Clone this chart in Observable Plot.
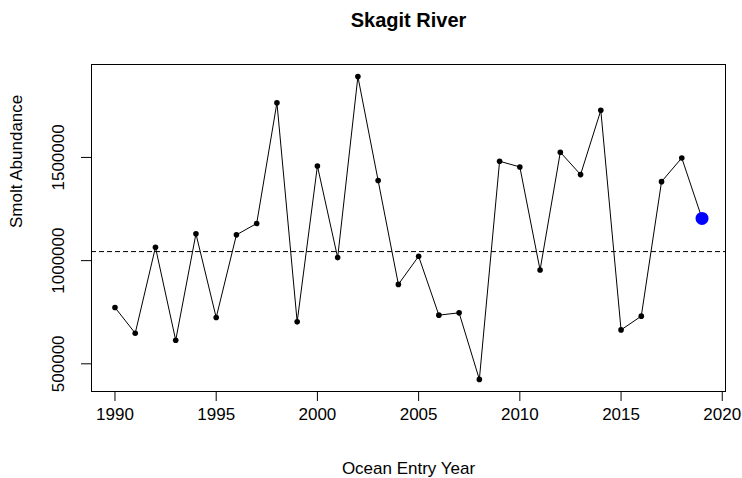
<!DOCTYPE html>
<html>
<head>
<meta charset="utf-8">
<script src="https://cdn.jsdelivr.net/npm/d3@7"></script>
<script src="https://cdn.jsdelivr.net/npm/@observablehq/plot@0.6"></script>
<style>
  html, body { margin: 0; padding: 0; background: #fff; }
  #chart svg { display: block; }
</style>
</head>
<body>
<div id="chart"></div>
<script>
const years = [1990,1991,1992,1993,1994,1995,1996,1997,1998,1999,
               2000,2001,2002,2003,2004,2005,2006,2007,2008,2009,
               2010,2011,2012,2013,2014,2015,2016,2017,2018,2019];
const abundance = [772900,648300,1064700,614300,1129900,724200,1125000,1180000,1765100,703300,
                   1458700,1014600,1891600,1388000,884900,1021000,735900,747100,424600,1481500,
                   1454000,954600,1525300,1416800,1728100,664400,731000,1382700,1497600,1204300];
const highlightYear = 2019;
const referenceLevel = 1043800;
const xTicks = [1990,1995,2000,2005,2010,2015,2020];
const yTicks = [500000,1000000,1500000];
const title = "Skagit River";
const xLabel = "Ocean Entry Year";
const yLabel = "Smolt Abundance";

const data = years.map((y, i) => ({year: y, value: abundance[i]}));
const past = data.filter(d => d.year !== highlightYear);
const current = data.filter(d => d.year === highlightYear);

// R-style 4% axis extension
const [x0, x1] = d3.extent(years);
const [y0, y1] = d3.extent(abundance);
const xPad = (x1 - x0) * 0.04, yPad = (y1 - y0) * 0.04;

const font = "'Liberation Sans', Arial, sans-serif";

const chart = Plot.plot({
  width: 742,
  height: 478,
  marginLeft: 91,
  marginRight: 17,
  marginTop: 64,
  marginBottom: 87,
  style: {fontFamily: font, fontSize: "17px", color: "#000", background: "#fff"},
  x: {domain: [x0 - xPad, x1 + xPad]},
  y: {domain: [y0 - yPad, y1 + yPad]},
  marks: [
    Plot.frame({stroke: "#000", strokeWidth: 1}),
    Plot.axisX({ticks: xTicks, tickSize: 10, tickPadding: 6, tickFormat: d => String(d),
                fontSize: 17, label: null, stroke: "#000"}),
    Plot.axisY({ticks: yTicks, tickSize: 10, text: null, label: null, stroke: "#000"}),
    Plot.text(yTicks, {y: d => d, frameAnchor: "left", dx: -32.5, rotate: -90,
                       text: d => String(d), textAnchor: "middle", lineAnchor: "middle",
                       fontSize: 17, fill: "#000"}),
    Plot.ruleY([referenceLevel], {stroke: "#000", strokeWidth: 1, strokeDasharray: "5,3"}),
    Plot.line(data, {x: "year", y: "value", stroke: "#000", strokeWidth: 1}),
    Plot.dot(past, {x: "year", y: "value", r: 2.8, fill: "#000", stroke: null}),
    Plot.dot(current, {x: "year", y: "value", r: 6.5, fill: "#0000ff", stroke: null}),
    Plot.text([title], {frameAnchor: "top", dy: -44, fontWeight: "bold", fontSize: 20,
                        lineAnchor: "middle", fill: "#000"}),
    Plot.text([xLabel], {frameAnchor: "bottom", dy: 77, fontSize: 17,
                         lineAnchor: "middle", fill: "#000"}),
    Plot.text([yLabel], {frameAnchor: "left", dx: -75, rotate: -90, fontSize: 17,
                         lineAnchor: "middle", fill: "#000"})
  ]
});
document.getElementById("chart").appendChild(chart);
</script>
</body>
</html>
